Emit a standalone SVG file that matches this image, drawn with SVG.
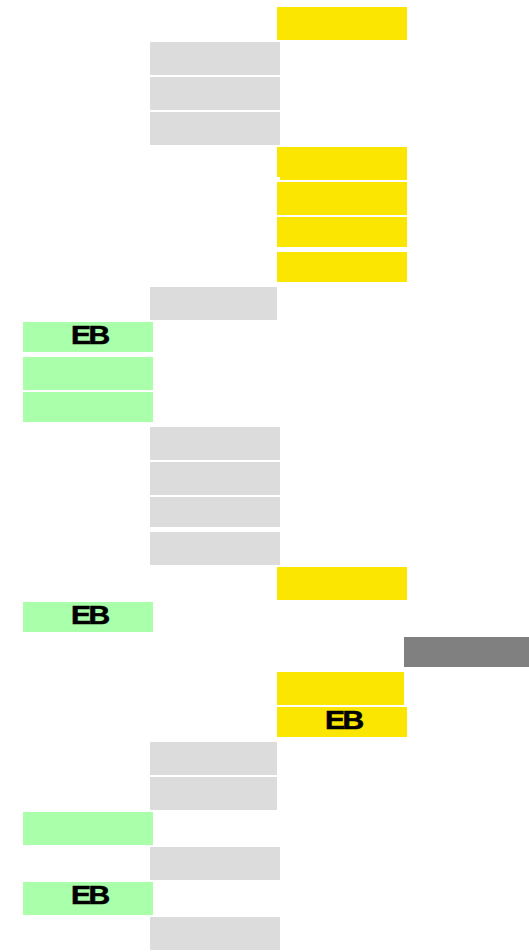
<svg xmlns="http://www.w3.org/2000/svg" width="529" height="952" viewBox="0 0 529 952">
<style>
.y{fill:#FAE600}
.g{fill:#DCDCDC}
.gr{fill:#AAFFAA}
.d{fill:#808080}
.t{font-family:"Liberation Sans",Arial,sans-serif;font-weight:bold;font-size:25px;letter-spacing:-2px;fill:#000;stroke:#000;stroke-width:0.6px}
</style>
<rect width="529" height="952" fill="#fff"/>
<g id="connectors"/>
<g id="n1"><rect class="y" x="277" y="7" width="130" height="33"/></g>
<g id="n2"><rect class="g" x="150" y="42" width="130" height="33"/></g>
<g id="n3"><rect class="g" x="150" y="77" width="130" height="33"/></g>
<g id="n4"><rect class="g" x="150" y="112" width="130" height="33"/></g>
<g id="n5"><rect class="y" x="277" y="147" width="130" height="30"/><rect class="y" x="280" y="150" width="127" height="30"/></g>
<g id="n6"><rect class="y" x="277" y="182" width="130" height="33"/></g>
<g id="n7"><rect class="y" x="277" y="217" width="130" height="30"/></g>
<g id="n8"><rect class="y" x="277" y="252" width="130" height="30"/></g>
<g id="n9"><rect class="g" x="150" y="287" width="127" height="33"/></g>
<g id="n10"><rect class="gr" x="23" y="322" width="130" height="30"/><text class="t" transform="translate(71,344) scale(1.2,1)">EB</text></g>
<g id="n11"><rect class="gr" x="23" y="357" width="130" height="33"/></g>
<g id="n12"><rect class="gr" x="23" y="392" width="130" height="30"/></g>
<g id="n13"><rect class="g" x="150" y="427" width="130" height="33"/></g>
<g id="n14"><rect class="g" x="150" y="462" width="130" height="33"/></g>
<g id="n15"><rect class="g" x="150" y="497" width="130" height="30"/></g>
<g id="n16"><rect class="g" x="150" y="532" width="130" height="33"/></g>
<g id="n17"><rect class="y" x="277" y="567" width="130" height="33"/></g>
<g id="n18"><rect class="gr" x="23" y="602" width="130" height="30"/><text class="t" transform="translate(71,624) scale(1.2,1)">EB</text></g>
<g id="n19"><rect class="d" x="404" y="637" width="125" height="30"/></g>
<g id="n20"><rect class="y" x="277" y="672" width="127" height="33"/></g>
<g id="n21"><rect class="y" x="277" y="707" width="130" height="30"/><text class="t" transform="translate(325,729) scale(1.2,1)">EB</text></g>
<g id="n22"><rect class="g" x="150" y="742" width="127" height="33"/></g>
<g id="n23"><rect class="g" x="150" y="777" width="127" height="33"/></g>
<g id="n24"><rect class="gr" x="23" y="812" width="130" height="33"/></g>
<g id="n25"><rect class="g" x="150" y="847" width="130" height="33"/></g>
<g id="n26"><rect class="gr" x="23" y="882" width="130" height="33"/><text class="t" transform="translate(71,904) scale(1.2,1)">EB</text></g>
<g id="n27"><rect class="g" x="150" y="917" width="130" height="33"/></g>
</svg>
